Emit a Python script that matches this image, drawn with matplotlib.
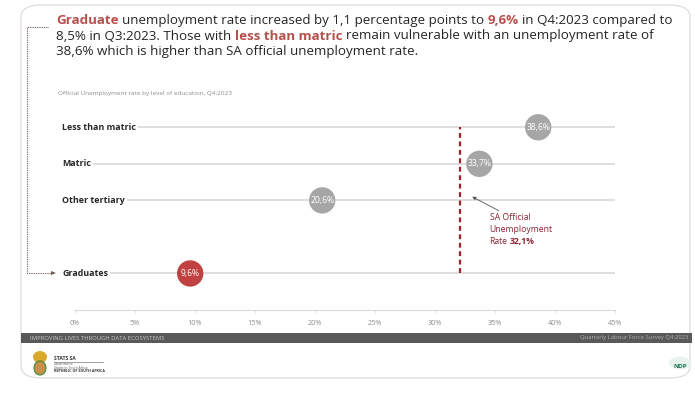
import matplotlib
matplotlib.use('Agg')
import matplotlib.pyplot as plt
from matplotlib.patches import FancyBboxPatch, Rectangle, Circle, Ellipse
from matplotlib.lines import Line2D

W, H = 695, 399
FONT = ['Open Sans', 'DejaVu Sans']

categories = ['Less than matric', 'Matric', 'Other tertiary', 'Graduates']
rates = [38.6, 33.7, 20.6, 9.6]
rate_labels = ['38,6%', '33,7%', '20,6%', '9,6%']
official_rate = 32.1
official_label = '32,1%'
xticks = [0, 5, 10, 15, 20, 25, 30, 35, 40, 45]
xtick_labels = ['0%', '5%', '10%', '15%', '20%', '25%', '30%', '35%', '40%', '45%']

row_pos = [4, 3, 2, 0]  # empty slot between other tertiary and graduates

GREY = '#a6a6a6'
RED = '#c0413f'
HILITE = '#b5504d'
DARKRED = '#8c2434'
TEXT = '#262626'


def fx(px):
    return px / W


def fy(py):
    return 1 - py / H


fig = plt.figure(figsize=(W / 100, H / 100), dpi=100)
fig.patch.set_facecolor('white')
renderer = fig.canvas.get_renderer()

# slide card
card = FancyBboxPatch((fx(21), fy(378)), fx(690) - fx(21), fy(5) - fy(378),
                      boxstyle='round,pad=0,rounding_size=0.03',
                      transform=fig.transFigure, facecolor='white',
                      edgecolor='#d9d9d9', linewidth=0.8, zorder=-5)
fig.patches.append(card)


def space_width(size, weight='normal'):
    a = fig.text(0, 0, 'x x', fontsize=size, family=FONT, fontweight=weight)
    b = fig.text(0, 0, 'xx', fontsize=size, family=FONT, fontweight=weight)
    sp = a.get_window_extent(renderer).width - b.get_window_extent(renderer).width
    a.remove()
    b.remove()
    return sp


# headline with coloured words
def rich_line(x_px, y_px, parts, size=9.6):
    sp = space_width(size)
    x = x_px
    for txt, color, weight in parts:
        t = fig.text(fx(x), fy(y_px), txt, fontsize=size, family=FONT,
                     color=color, fontweight=weight, va='baseline')
        x = t.get_window_extent(renderer).x1 + sp


rich_line(56, 24, [('Graduate', HILITE, 'bold'),
                   ('unemployment rate increased by 1,1 percentage points to', TEXT, 'normal'),
                   ('9,6%', HILITE, 'bold'),
                   ('in Q4:2023 compared to', TEXT, 'normal')])
rich_line(56, 39.5, [('8,5% in Q3:2023. Those with', TEXT, 'normal'),
                     ('less than matric', HILITE, 'bold'),
                     ('remain vulnerable with an unemployment rate of', TEXT, 'normal')])
rich_line(56, 55, [('38,6% which is higher than SA official unemployment rate.', TEXT, 'normal')])

fig.text(fx(58), fy(93), 'Official Unemployment rate by level of education, Q4:2023',
         fontsize=4.6, family=FONT, color='#8c8c8c', va='center')

# chart
ax = fig.add_axes([fx(75), fy(310), fx(615) - fx(75), fy(109) - fy(310)])
ax.set_xlim(0, 45)
ax.set_ylim(-1, 4.5)
ax.set_facecolor('none')
for s in ['top', 'right', 'left']:
    ax.spines[s].set_visible(False)
ax.spines['bottom'].set_color('#d9d9d9')
ax.spines['bottom'].set_linewidth(0.8)
ax.set_yticks([])
ax.set_xticks(xticks)
ax.set_xticklabels(xtick_labels, fontsize=5.2, color='#8c8c8c', family=FONT)
ax.tick_params(axis='x', length=2, width=0.6, color='#d9d9d9', pad=5)

for cat, rate, lab, y in zip(categories, rates, rate_labels, row_pos):
    t = ax.text(-1.08, y, cat, fontsize=6.4, fontweight='bold', color=TEXT,
                family=FONT, va='center', ha='left', clip_on=False)
    bb = t.get_window_extent(renderer)
    x_start = ax.transData.inverted().transform((bb.x1 + 2, 0))[0]
    ax.plot([x_start, 45], [y, y], color='#d9d9d9', lw=1.2, zorder=1,
            clip_on=False, solid_capstyle='butt')
    color = RED if cat == 'Graduates' else GREY
    ax.scatter([rate], [y], s=360, color=color, edgecolors='none', zorder=3)
    ax.text(rate, y, lab, fontsize=6.2, color='white', ha='center', va='center',
            family=FONT, zorder=4)

# official rate reference line + note
ax.plot([official_rate, official_rate], [row_pos[-1], row_pos[0]],
        color='#a0202c', lw=1.6, ls=(0, (2.2, 1.6)), zorder=2)
ax.annotate('', xy=(official_rate + 1.0, 2.1), xytext=(official_rate + 3.2, 1.72),
            arrowprops=dict(arrowstyle='-|>', color='#555555', lw=0.6,
                            mutation_scale=5, shrinkA=0, shrinkB=0))
note_x = official_rate + 2.45
ax.text(note_x, 1.53, 'SA Official', fontsize=6.2, color=DARKRED, family=FONT,
        va='center', ha='left')
ax.text(note_x, 1.2, 'Unemployment', fontsize=6.2, color=DARKRED, family=FONT,
        va='center', ha='left')
rt = ax.text(note_x, 0.87, 'Rate', fontsize=6.2, color=DARKRED, family=FONT,
             va='center', ha='left')
rx = rt.get_window_extent(renderer).x1 + space_width(6.2)
ax.text(ax.transData.inverted().transform((rx, 0))[0], 0.87, official_label,
        fontsize=6.2, color=DARKRED, family=FONT, fontweight='bold',
        va='center', ha='left')

# left dotted bracket
fig.lines.append(Line2D([fx(48), fx(27), fx(27), fx(52)],
                        [fy(27), fy(27), fy(273), fy(273)],
                        transform=fig.transFigure, color='#6e5a55', lw=0.8,
                        ls=(0, (0.8, 0.8))))
fig.patches.append(plt.Polygon([[fx(56), fy(273)], [fx(51), fy(271)], [fx(51), fy(275)]],
                               closed=True, transform=fig.transFigure,
                               color='#6e5a55', lw=0))

# footer band
fig.patches.append(Rectangle((fx(21), fy(343)), fx(692) - fx(21), fy(333) - fy(343),
                             transform=fig.transFigure, facecolor='#595959',
                             edgecolor='none'))
fig.text(fx(30), fy(338), 'IMPROVING LIVES THROUGH DATA ECOSYSTEMS', fontsize=4.2,
         family=FONT, color='#c8c8c8', va='center')
fig.text(fx(688), fy(338), 'Quarterly Labour Force Survey Q4:2023', fontsize=4.2,
         family=FONT, color='#b0b0b0', va='center', ha='right')

# Stats SA logo (simplified)
fig.patches.append(Ellipse((fx(40), fy(357)), fx(14) - fx(0), fy(0) - fy(12),
                           transform=fig.transFigure, facecolor='#d9a82b', edgecolor='none'))
fig.patches.append(Ellipse((fx(40), fy(368)), fx(12) - fx(0), fy(0) - fy(14),
                           transform=fig.transFigure, facecolor='#c98f4a', edgecolor='#3c8c3c',
                           lw=0.8))
fig.text(fx(54), fy(358), 'STATS SA', fontsize=3.6, fontweight='bold', family=FONT,
         color='#333333', va='center')
fig.lines.append(Line2D([fx(54), fx(103)], [fy(362), fy(362)], transform=fig.transFigure,
                        color='#555555', lw=0.4))
fig.text(fx(54), fy(366), 'Department:\nStatistics South Africa', fontsize=2.4, family=FONT,
         color='#555555', va='center', linespacing=1.1)
fig.text(fx(54), fy(371), 'REPUBLIC OF SOUTH AFRICA', fontsize=2.6, fontweight='bold',
         family=FONT, color='#333333', va='center')

# NDP logo (simplified)
fig.patches.append(Circle((fx(680), fy(363)), fx(11), transform=fig.transFigure,
                          facecolor='#e8f1ec', edgecolor='none'))
fig.text(fx(680), fy(366), 'NDP', fontsize=4.5, fontweight='bold', family=FONT,
         color='#1e7a5a', ha='center', va='center')

fig.savefig('out.png', dpi=100)
